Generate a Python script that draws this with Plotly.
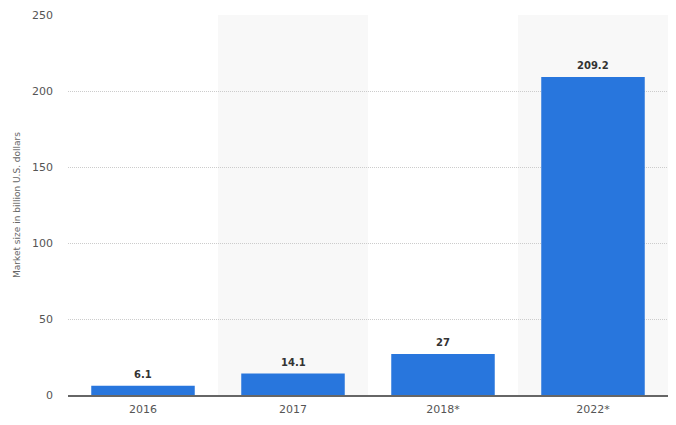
import plotly.graph_objects as go

categories = ["2016", "2017", "2018*", "2022*"]
values = [6.1, 14.1, 27, 209.2]
labels = ["6.1", "14.1", "27", "209.2"]
y_ticks = [0, 50, 100, 150, 200, 250]
y_title = "Market size in billion U.S. dollars"

fig = go.Figure()
fig.add_trace(go.Bar(
    x=categories, y=values,
    marker=dict(color="#2876dd", line=dict(width=0)),
    hoverinfo="x+y",
))

for i, (v, t) in enumerate(zip(values, labels)):
    fig.add_annotation(
        x=i, y=v, text=t, showarrow=False, yanchor="bottom", yshift=4,
        font=dict(family="DejaVu Sans", size=10, color="#333333", weight="bold"),
    )

# alternating shaded column bands
shapes = []
for i in range(len(categories)):
    if i % 2 == 1:
        shapes.append(dict(type="rect", xref="x", yref="paper",
                           x0=i - 0.5, x1=i + 0.5, y0=0, y1=1,
                           fillcolor="#f8f8f8", line=dict(width=0), layer="below"))

fig.update_layout(
    width=676, height=425,
    margin=dict(l=68, r=8, t=15, b=30),
    plot_bgcolor="white", paper_bgcolor="white",
    bargap=0.31,
    showlegend=False,
    shapes=shapes,
    font=dict(family="DejaVu Sans", size=11, color="#666666"),
    xaxis=dict(
        type="category",
        showgrid=False, showline=True, linecolor="#666666", linewidth=2,
        ticks="", tickfont=dict(size=11, color="#555555"),
        ticklabelstandoff=3,
        range=[-0.5, len(categories) - 0.5],
    ),
    yaxis=dict(
        range=[0, 250], tickvals=y_ticks, showgrid=True,
        gridcolor="#cccccc", griddash="1px,1px", gridwidth=1,
        zeroline=False, showline=False,
        ticklabelstandoff=14,
        tickfont=dict(size=11, color="#555555"),
        title=dict(text=y_title, font=dict(size=9, color="#666666"), standoff=9),
    ),
)

fig.write_html(
    "out.html",
    config={"displayModeBar": False},
    post_script="document.body.style.margin='0';document.body.style.overflow='hidden';",
)
